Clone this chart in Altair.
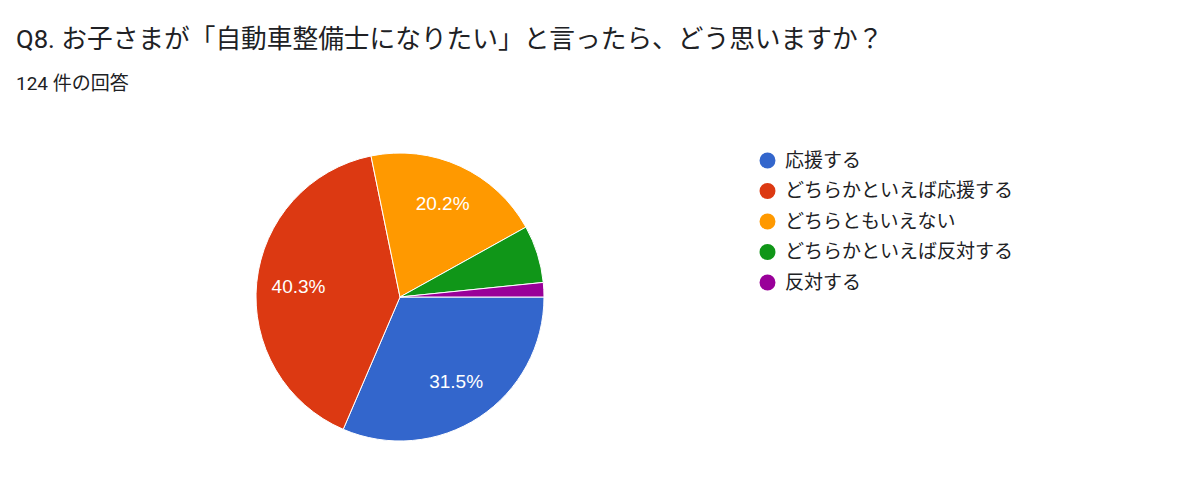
import math
import altair as alt
import pandas as pd

categories = ["応援する", "どちらかといえば応援する", "どちらともいえない", "どちらかといえば反対する", "反対する"]
counts = [39, 50, 25, 8, 2]
colors = ["#3366cc", "#dc3912", "#ff9900", "#109618", "#990099"]
order_idx = [0, 1, 2, 3, 4]

title_text = "Q8. お子さまが「自動車整備士になりたい」と言ったら、どう思いますか？"
subtitle_text = "124 件の回答"

df = pd.DataFrame({"category": categories, "count": counts, "order": order_idx})

FONT = "Roboto, 'Noto Sans CJK JP', sans-serif"
LABEL_FONT = "Arial, 'Liberation Sans', sans-serif"

PAD_L, PAD_T = 8, 100
cx, cy = 400 - 8 - PAD_L, 297 - 8 - PAD_T
R = 144

base = alt.Chart(df).transform_joinaggregate(
    total="sum(count)"
).transform_calculate(
    share="datum.count / datum.total",
    label="datum.count / datum.total > 0.1 ? format(datum.count / datum.total, '.1%') : ''",
)

theta = alt.Theta(
    "count:Q",
    stack=True,
    scale=alt.Scale(range=[math.pi / 2, math.pi / 2 + 2 * math.pi]),
)

arcs = base.mark_arc(outerRadius=R, stroke="white", strokeWidth=1).encode(
    theta=theta,
    color=alt.Color(
        "category:N",
        scale=alt.Scale(domain=categories, range=colors),
        sort=categories,
        legend=alt.Legend(
            title=None,
            orient="none",
            legendX=758 - 8 - PAD_L,
            legendY=160 - 8 - PAD_T - 9,
            padding=0,
            symbolType="circle",
            symbolSize=254,
            symbolStrokeWidth=0,
            labelFont=FONT,
            labelFontSize=19,
            labelColor="#202124",
            labelOffset=8,
            rowPadding=10.5,
            labelLimit=400,
        ),
    ),
    order=alt.Order("order:Q"),
    x=alt.value(cx),
    y=alt.value(cy),
)

labels = base.mark_text(
    radius=102, color="white", fontSize=19, font=LABEL_FONT
).encode(
    theta=theta,
    detail="category:N",
    order=alt.Order("order:Q"),
    text="label:N",
    x=alt.value(cx),
    y=alt.value(cy),
)

chart = alt.layer(arcs, labels).properties(
    width=1184 - PAD_L - 8,
    height=484 - PAD_T,
    background="white",
    autosize=alt.AutoSizeParams(type="none"),
    padding={"left": PAD_L, "top": PAD_T, "right": 8, "bottom": 0},
    title=alt.TitleParams(
        text=title_text,
        subtitle=subtitle_text,
        anchor="start",
        font=FONT,
        fontSize=25.7,
        fontWeight="normal",
        color="#202124",
        subtitleFont=FONT,
        subtitleFontSize=19,
        subtitleColor="#202124",
        subtitlePadding=21,
        offset=13,
    ),
).configure_view(stroke=None)

chart.save("out.html", embed_options={"renderer": "svg", "actions": False})
